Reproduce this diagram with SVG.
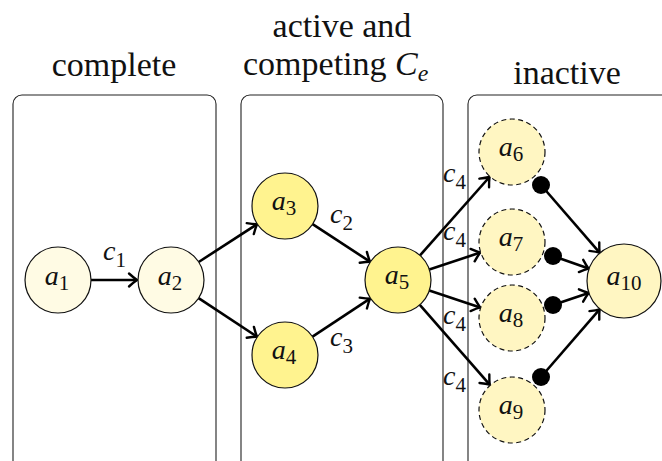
<svg xmlns="http://www.w3.org/2000/svg" width="662" height="461" viewBox="0 0 662 461">
  <style>
    .title { font-family: "Liberation Serif", "Times New Roman", serif; font-size: 34px; fill: #111; }
    .math { font-family: "Liberation Serif", "Times New Roman", serif; font-size: 28px; font-style: italic; fill: #111; }
    .sub { font-style: normal; font-size: 21px; }
    .panel { fill: none; stroke: #222; stroke-width: 1.1; }
    .node { stroke: #111; stroke-width: 1.2; }
    .done { fill: #fffbe4; }
    .active { fill: #fff38f; }
    .idle { fill: #fff6c2; stroke-dasharray: 5 3.5; }
    .sink { fill: #fff6c2; }
    .edge { fill: none; stroke: #000; stroke-width: 2.6; marker-end: url(#arrow); }
    .dot { fill: #000; }
  </style>
  <defs>
    <marker id="arrow" markerUnits="userSpaceOnUse" markerWidth="20" markerHeight="20" refX="0" refY="0" viewBox="-10 -10 20 20" orient="auto">
      <path d="M-8,-6.5 Q-3,-2 0,0 Q-3,2 -8,6.5" fill="none" stroke="#000" stroke-width="2.4" stroke-linecap="round"/>
    </marker>
  </defs>

  <rect width="662" height="461" fill="#fff"/>

  <!-- panel headings -->
  <g id="headings">
    <text class="title" x="114" y="76" text-anchor="middle">complete</text>
    <text class="title" x="342" y="37" text-anchor="middle">active and</text>
    <text class="title" x="243" y="75">competing <tspan font-style="italic">C</tspan><tspan font-style="italic" font-size="24" dy="6">e</tspan></text>
    <text class="title" x="567" y="84" text-anchor="middle">inactive</text>
  </g>

  <!-- panels -->
  <g id="panels">
    <rect class="panel" x="13" y="95" width="203" height="400" rx="9"/>
    <rect class="panel" x="241" y="95" width="202" height="400" rx="9"/>
    <rect class="panel" x="468" y="95" width="240" height="400" rx="9"/>
  </g>

  <!-- connectors -->
  <g id="connectors">
    <line class="edge" x1="91" y1="280" x2="137" y2="280"/>
    <line class="edge" x1="198.7" y1="262" x2="257" y2="224.2"/>
    <line class="edge" x1="198.6" y1="298.1" x2="257" y2="336.7"/>
    <line class="edge" x1="312.6" y1="224.1" x2="370" y2="261.7"/>
    <line class="edge" x1="312.5" y1="336.7" x2="370" y2="298.6"/>
    <line class="edge" x1="420" y1="255.4" x2="489.5" y2="177"/>
    <line class="edge" x1="429.3" y1="269.6" x2="480.2" y2="252.6"/>
    <line class="edge" x1="429.3" y1="290.4" x2="480.2" y2="307.4"/>
    <line class="edge" x1="419.8" y1="304.8" x2="489.7" y2="384.7"/>
    <line class="edge" x1="541" y1="185" x2="599.6" y2="252.7"/>
    <line class="edge" x1="553" y1="256" x2="588.6" y2="268.6"/>
    <line class="edge" x1="553" y1="305" x2="588.6" y2="292.9"/>
    <line class="edge" x1="541" y1="377" x2="599.6" y2="309.3"/>
    <circle class="dot" cx="541" cy="185" r="9"/>
    <circle class="dot" cx="553" cy="256" r="9"/>
    <circle class="dot" cx="553" cy="305" r="9"/>
    <circle class="dot" cx="541" cy="377" r="9"/>
    <text class="math" x="103" y="260">c<tspan class="sub" dy="7">1</tspan></text>
    <text class="math" x="330" y="223">c<tspan class="sub" dy="7">2</tspan></text>
    <text class="math" x="330" y="346">c<tspan class="sub" dy="7">3</tspan></text>
    <text class="math" x="443" y="182">c<tspan class="sub" dy="7">4</tspan></text>
    <text class="math" x="443" y="240">c<tspan class="sub" dy="7">4</tspan></text>
    <text class="math" x="443" y="324">c<tspan class="sub" dy="7">4</tspan></text>
    <text class="math" x="443" y="385">c<tspan class="sub" dy="7">4</tspan></text>
  </g>

  <!-- nodes -->
  <g id="a1"><circle class="node done" cx="58" cy="280" r="33"/><text class="math" x="57" y="285" text-anchor="middle">a<tspan class="sub" dy="5">1</tspan></text></g>
  <g id="a2"><circle class="node done" cx="171" cy="280" r="33"/><text class="math" x="170" y="285" text-anchor="middle">a<tspan class="sub" dy="5">2</tspan></text></g>
  <g id="a3"><circle class="node active" cx="285" cy="206" r="33"/><text class="math" x="284" y="210" text-anchor="middle">a<tspan class="sub" dy="5">3</tspan></text></g>
  <g id="a4"><circle class="node active" cx="285" cy="355" r="33"/><text class="math" x="284" y="359" text-anchor="middle">a<tspan class="sub" dy="5">4</tspan></text></g>
  <g id="a5"><circle class="node active" cx="398" cy="280" r="33"/><text class="math" x="397" y="284" text-anchor="middle">a<tspan class="sub" dy="5">5</tspan></text></g>
  <g id="a6"><circle class="node idle" cx="512" cy="152" r="33"/><text class="math" x="511" y="156" text-anchor="middle">a<tspan class="sub" dy="5">6</tspan></text></g>
  <g id="a7"><circle class="node idle" cx="512" cy="242" r="33"/><text class="math" x="511" y="246" text-anchor="middle">a<tspan class="sub" dy="5">7</tspan></text></g>
  <g id="a8"><circle class="node idle" cx="512" cy="318" r="33"/><text class="math" x="511" y="322" text-anchor="middle">a<tspan class="sub" dy="5">8</tspan></text></g>
  <g id="a9"><circle class="node idle" cx="512" cy="410" r="33"/><text class="math" x="511" y="414" text-anchor="middle">a<tspan class="sub" dy="5">9</tspan></text></g>
  <g id="a10"><circle class="node sink" cx="624" cy="281" r="37"/><text class="math" x="624" y="285" text-anchor="middle">a<tspan class="sub" dy="5">10</tspan></text></g>
</svg>
